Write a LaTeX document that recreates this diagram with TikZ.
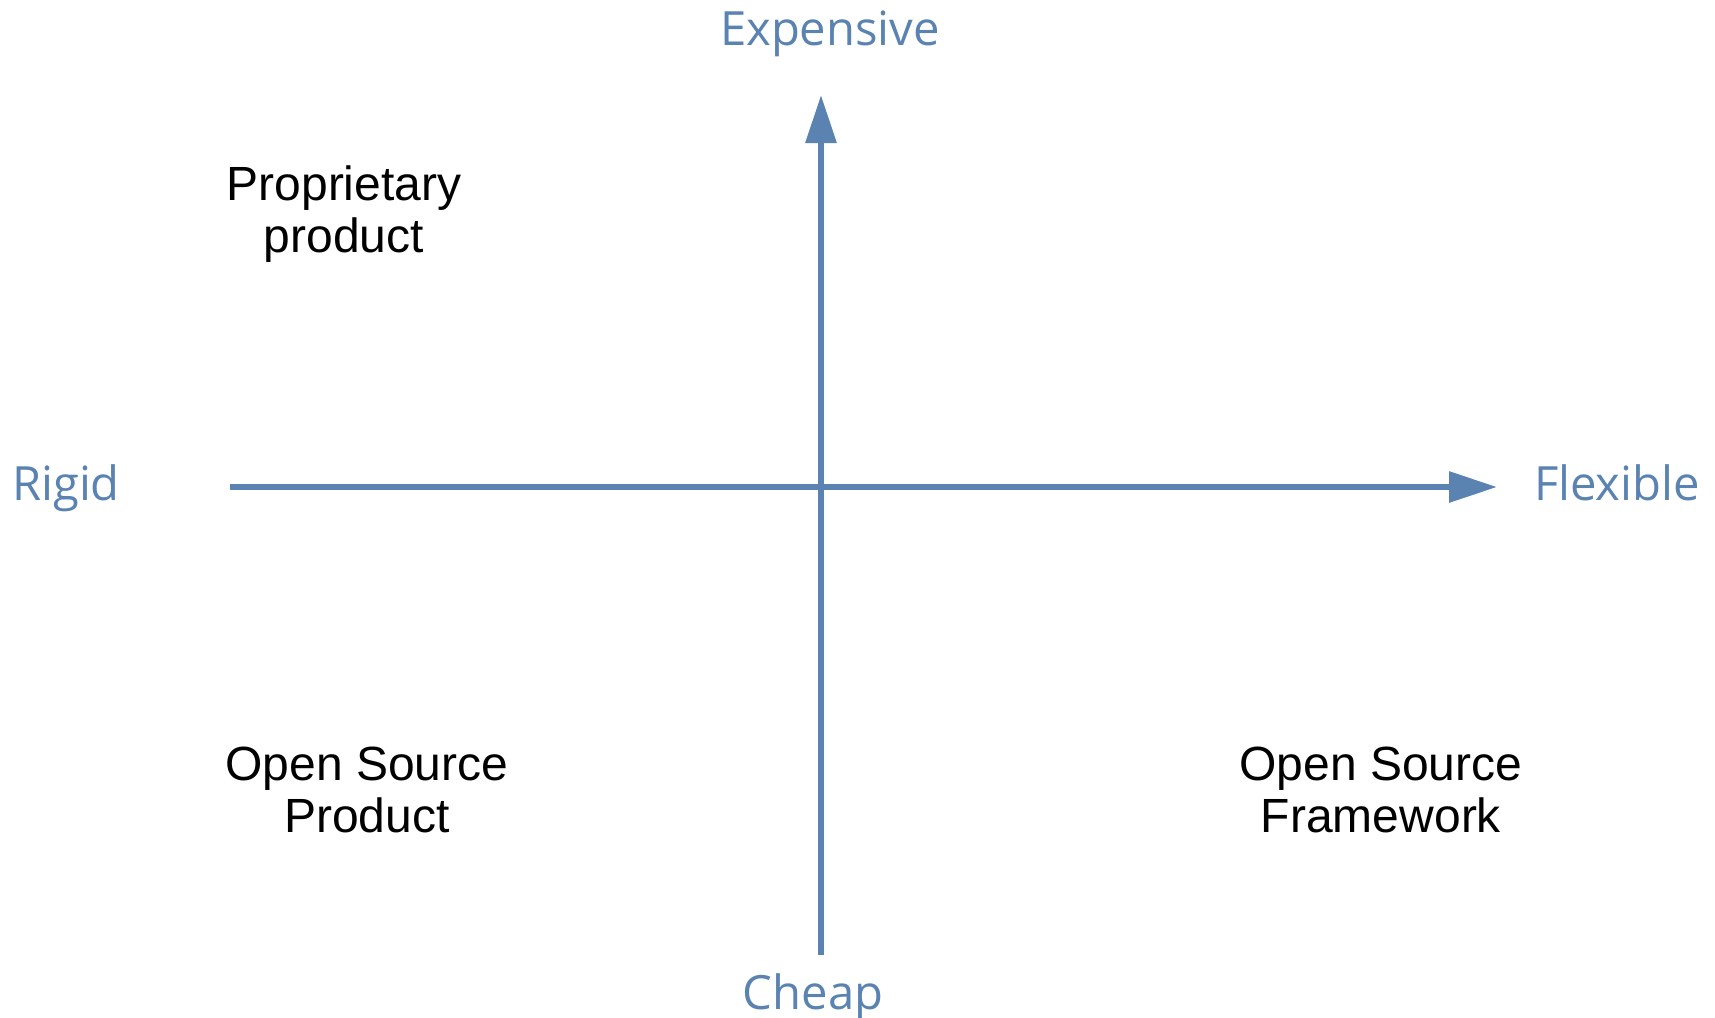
\documentclass[tikz,border=0pt]{standalone}
\usepackage{fontspec}
\setmainfont{Liberation Sans}
\newfontfamily\labelfont{Open Sans}
\usepackage{xcolor}
\usepackage{tikz}
\usetikzlibrary{arrows.meta}
\definecolor{axisblue}{HTML}{5A83B2}

\begin{document}
\begin{tikzpicture}[x=0.5pt, y=-0.5pt, every node/.style={inner sep=0pt},
        axis/.style={draw=axisblue, line width=3pt, -{Triangle[length=24pt, width=15pt]}},
        axislabel/.style={font=\labelfont\fontsize{23.6}{28}\selectfont, text=axisblue, anchor=base},
        quadrant/.style={font=\fontsize{24}{26}\selectfont, align=center, anchor=base}]
        \useasboundingbox (0,0) rectangle (1715,1018);
        % axis ends
        \coordinate (left) at (230,487);
        \coordinate (right) at (1497,487);
        \coordinate (bottom) at (821,955);
        \coordinate (top) at (821,95);
        \draw[axis] (left) -- (right);
        \draw[axis] (bottom) -- (top);
        % axis labels
        \node[axislabel] (expensive) at (830,45) {Expensive};
        \node[axislabel] (cheap) at (813,1009) {Cheap};
        \node[axislabel] (rigid) at (66,500) {Rigid};
        \node[axislabel] (flexible) at (1617,500) {Flexible};
        % quadrants (base = last line)
        \node[quadrant] (prop) at (344,252) {Proprietary\\product};
        \node[quadrant] (osprod) at (367,832) {Open Source\\Product};
        \node[quadrant] (osfw) at (1381,832) {Open Source\\Framework};
\end{tikzpicture}
\end{document}
